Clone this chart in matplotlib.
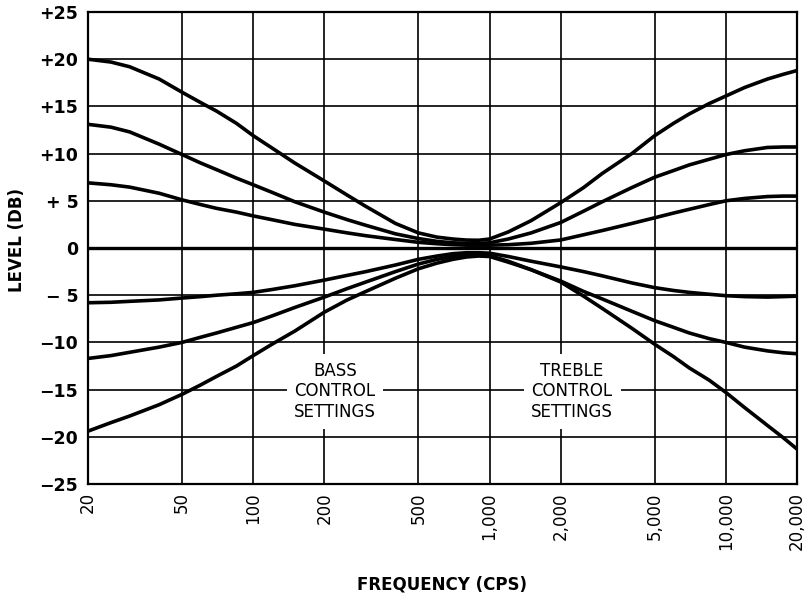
import matplotlib
matplotlib.use("Agg")
import matplotlib.pyplot as plt

# ---- data ----
freq = [20, 25, 30, 40, 50, 60, 70, 85, 100, 120, 150, 200, 250, 300, 400, 500,
        600, 700, 800, 900, 1000, 1200, 1500, 2000, 2500, 3000, 4000, 5000,
        6000, 7000, 8500, 10000, 12000, 15000, 17500, 20000]

boost_max = [20.0, 19.7, 19.2, 17.9, 16.5, 15.4, 14.5, 13.2, 11.9, 10.6, 9.0, 7.1,
             5.6, 4.4, 2.6, 1.6, 1.15, 0.95, 0.84, 0.82, 0.95,
             1.7, 2.9, 4.8, 6.4, 7.9, 10.0, 11.9, 13.2, 14.2, 15.3, 16.1, 17.0,
             17.9, 18.4, 18.8]
boost_mid = [13.1, 12.8, 12.3, 11.0, 9.9, 9.0, 8.3, 7.4, 6.7, 5.9, 4.9, 3.8,
             3.0, 2.4, 1.5, 1.0, 0.7, 0.55, 0.5, 0.5, 0.55,
             0.95, 1.6, 2.7, 3.9, 4.9, 6.4, 7.5, 8.2, 8.8, 9.4, 9.9, 10.3,
             10.65, 10.7, 10.7]
boost_min = [6.9, 6.7, 6.45, 5.8, 5.1, 4.6, 4.2, 3.8, 3.4, 3.0, 2.5, 2.0,
             1.6, 1.3, 0.9, 0.6, 0.45, 0.35, 0.3, 0.3, 0.3,
             0.35, 0.5, 0.85, 1.4, 1.85, 2.6, 3.2, 3.7, 4.1, 4.6, 5.0, 5.25,
             5.45, 5.5, 5.5]
flat = [0.0] * len(freq)
cut_min = [-5.8, -5.75, -5.65, -5.5, -5.3, -5.15, -5.0, -4.85, -4.7, -4.4, -4.0, -3.4,
           -2.9, -2.5, -1.8, -1.2, -0.85, -0.6, -0.5, -0.5, -0.55,
           -0.9, -1.4, -2.0, -2.5, -2.95, -3.7, -4.2, -4.5, -4.7, -4.9, -5.05, -5.15,
           -5.2, -5.15, -5.1]
cut_mid = [-11.7, -11.4, -11.05, -10.5, -10.0, -9.45, -9.0, -8.4, -7.9, -7.2, -6.3, -5.2,
           -4.3, -3.6, -2.5, -1.7, -1.2, -0.9, -0.7, -0.65, -0.8,
           -1.4, -2.3, -3.5, -4.6, -5.4, -6.7, -7.7, -8.4, -9.0, -9.6, -10.0, -10.5,
           -10.9, -11.1, -11.2]
cut_max = [-19.4, -18.5, -17.8, -16.6, -15.5, -14.5, -13.6, -12.5, -11.4, -10.2, -8.8, -6.8,
           -5.5, -4.6, -3.2, -2.2, -1.6, -1.2, -0.95, -0.85, -0.9,
           -1.5, -2.3, -3.6, -5.1, -6.4, -8.5, -10.2, -11.5, -12.7, -14.0, -15.3, -16.9,
           -18.8, -20.1, -21.3]

xticks = [20, 50, 100, 200, 500, 1000, 2000, 5000, 10000, 20000]
xticklabels = ["20", "50", "100", "200", "500", "1,000", "2,000", "5,000",
               "10,000", "20,000"]
yticks = [25, 20, 15, 10, 5, 0, -5, -10, -15, -20, -25]
yticklabels = ["+25", "+20", "+15", "+10", "+ 5", "0", "\u2212 5", "\u221210",
               "\u221215", "\u221220", "\u221225"]

annotations = ["BASS\nCONTROL\nSETTINGS", "TREBLE\nCONTROL\nSETTINGS"]
annot_x = [222, 2236]
annot_y = [-15.2, -15.2]

# ---- figure ----
W, H = 808, 595
fig = plt.figure(figsize=(W / 100, H / 100), dpi=100)
fig.patch.set_facecolor("white")
ax = fig.add_axes([88 / W, 1 - 484 / H, (797 - 88) / W, (484 - 12) / H])
ax.set_xscale("log")
ax.set_xlim(20, 20000)
ax.set_ylim(-25, 25)

ax.set_xticks(xticks)
ax.set_xticklabels(xticklabels, rotation=90, fontsize=12, family="DejaVu Sans")
ax.minorticks_off()
ax.set_yticks(yticks)
ax.set_yticklabels(yticklabels, fontsize=12.5, fontweight="bold", family="DejaVu Sans")
ax.tick_params(axis="both", length=0)
ax.tick_params(axis="x", pad=6)
ax.tick_params(axis="y", pad=7)

ax.grid(True, color="black", linewidth=1.2)
ax.set_axisbelow(True)
for s in ax.spines.values():
    s.set_linewidth(1.6)
    s.set_color("black")

for series in [boost_max, boost_mid, boost_min, cut_min, cut_mid, cut_max]:
    ax.plot(freq, series, color="black", linewidth=2.6,
            solid_capstyle="round", solid_joinstyle="round", zorder=3)
ax.plot(freq, flat, color="black", linewidth=2.4, zorder=3)

for txt, x, y in zip(annotations, annot_x, annot_y):
    ax.text(x, y, txt, ha="center", va="center", fontsize=12,
            linespacing=1.2, family="DejaVu Sans", zorder=5,
            bbox=dict(boxstyle="square,pad=0.45", facecolor="white",
                      edgecolor="none"))

fig.text(442 / W, 1 - 584 / H, "FREQUENCY (CPS)", ha="center", va="center",
         fontsize=12, fontweight="bold", family="DejaVu Sans")
fig.text(17 / W, 1 - 240 / H, "LEVEL (DB)", ha="center", va="center",
         rotation=90, fontsize=12, fontweight="bold", family="DejaVu Sans")

fig.savefig("out.png", dpi=100, facecolor="white")
